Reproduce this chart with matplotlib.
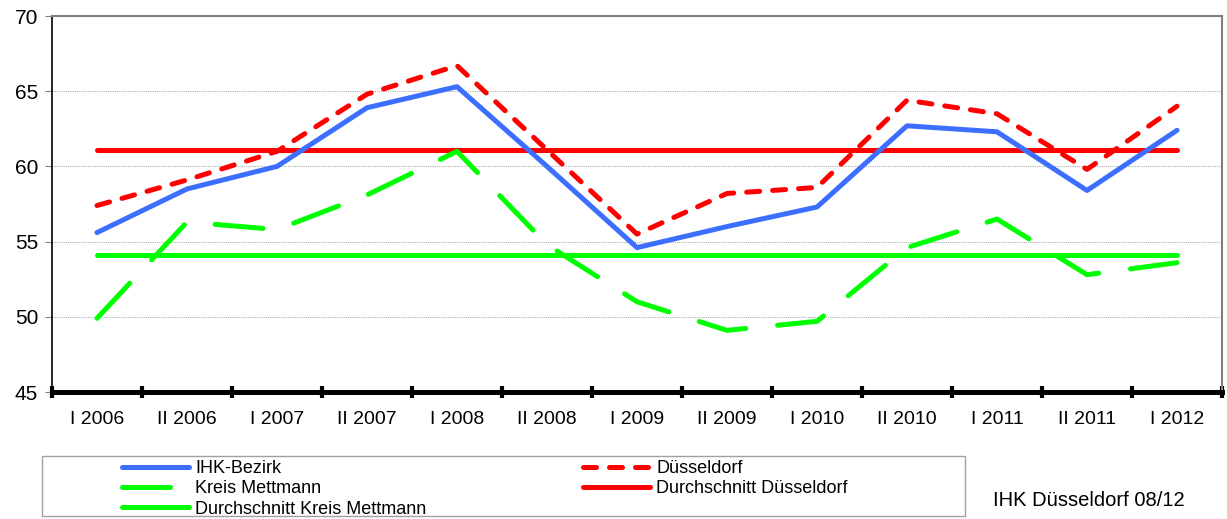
import matplotlib
matplotlib.use("Agg")
import matplotlib.pyplot as plt
from matplotlib.patches import Rectangle
import numpy as np

plt.rcParams['font.family'] = ['Liberation Sans', 'DejaVu Sans']

# Daten
halbjahre = ["I 2006", "II 2006", "I 2007", "II 2007", "I 2008", "II 2008", "I 2009",
             "II 2009", "I 2010", "II 2010", "I 2011", "II 2011", "I 2012"]
ihk_bezirk = [55.6, 58.5, 60.0, 63.9, 65.3, 60.0, 54.6, 56.0, 57.3, 62.7, 62.3, 58.4, 62.4]
duesseldorf = [57.4, 59.1, 61.0, 64.8, 66.7, 61.1, 55.5, 58.2, 58.6, 64.4, 63.5, 59.8, 64.0]
kreis_mettmann = [49.9, 56.3, 55.8, 58.1, 61.0, 54.8, 51.0, 49.1, 49.7, 54.6, 56.5, 52.8, 53.6]
schnitt_duesseldorf = [61.1] * 13
schnitt_mettmann = [54.1] * 13

x = np.arange(len(halbjahre))

fig = plt.figure(figsize=(12.27, 5.19), dpi=100)
ax = fig.add_axes([52/1227, 1 - 392/519, 1170/1227, 376/519])

lw = 3.6
l_dkm, = ax.plot(x, schnitt_mettmann, color="#00FF00", lw=lw, solid_capstyle="round",
                 label="Durchschnitt Kreis Mettmann", zorder=3)
l_dd, = ax.plot(x, schnitt_duesseldorf, color="#FF0000", lw=lw, solid_capstyle="round",
                label="Durchschnitt Düsseldorf", zorder=3)
l_km, = ax.plot(x, kreis_mettmann, color="#00FF00", lw=lw, dashes=(9.6, 6.4),
                dash_capstyle="round", label="Kreis Mettmann", zorder=4)
l_ihk, = ax.plot(x, ihk_bezirk, color="#3C6EFF", lw=lw, solid_capstyle="round",
                 label="IHK-Bezirk", zorder=5)
l_d, = ax.plot(x, duesseldorf, color="#FF0000", lw=lw, dashes=(2.6, 2.6),
               dash_capstyle="round", label="Düsseldorf", zorder=6)

ax.set_xlim(-0.5, 12.5)
ax.set_ylim(45, 70)
ax.set_yticks([45, 50, 55, 60, 65, 70])
ax.tick_params(axis="y", labelsize=15, length=5, color="#808080", width=0.8, pad=5)
ax.yaxis.grid(True, color="#B0B0B0", lw=0.8, ls=(0, (1, 1)))
ax.set_axisbelow(True)

ax.set_xticks(x)
ax.set_xticklabels(halbjahre)
ax.set_xticks(np.arange(-0.5, 13, 1), minor=True)
ax.tick_params(axis="x", which="major", length=0, labelsize=14, pad=14)
ax.tick_params(axis="x", which="minor", direction="inout", length=8.5, width=3, color="black")

ax.spines["bottom"].set_linewidth(3.6)
ax.spines["left"].set_linewidth(1.2)
ax.spines["left"].set_color("black")
ax.spines["top"].set_color("#808080")
ax.spines["top"].set_linewidth(1.5)
ax.spines["right"].set_color("#808080")
ax.spines["right"].set_linewidth(1.5)

# Legende (Rahmen + zwei Spalten)
fig.add_artist(Rectangle((42/1227, 1 - 516/519), 923/1227, 60/519, transform=fig.transFigure,
                         fill=False, edgecolor="#A0A0A0", lw=1))
leg_opts = dict(loc="upper left", frameon=False, fontsize=13, handlelength=3.7,
                handletextpad=0.35, labelspacing=0.18, borderpad=0.0)
fig.legend([l_ihk, l_km, l_dkm],
           ["IHK-Bezirk", "Kreis Mettmann", "Durchschnitt Kreis Mettmann"],
           bbox_to_anchor=(113/1227, 1 - 451/519), **leg_opts)
fig.legend([l_d, l_dd], ["Düsseldorf", "Durchschnitt Düsseldorf"],
           bbox_to_anchor=(574/1227, 1 - 451/519), **leg_opts)

fig.text(993/1227, 1 - 500/519, "IHK Düsseldorf 08/12", fontsize=14.5, va="center")

fig.savefig("out.png", dpi=100)
